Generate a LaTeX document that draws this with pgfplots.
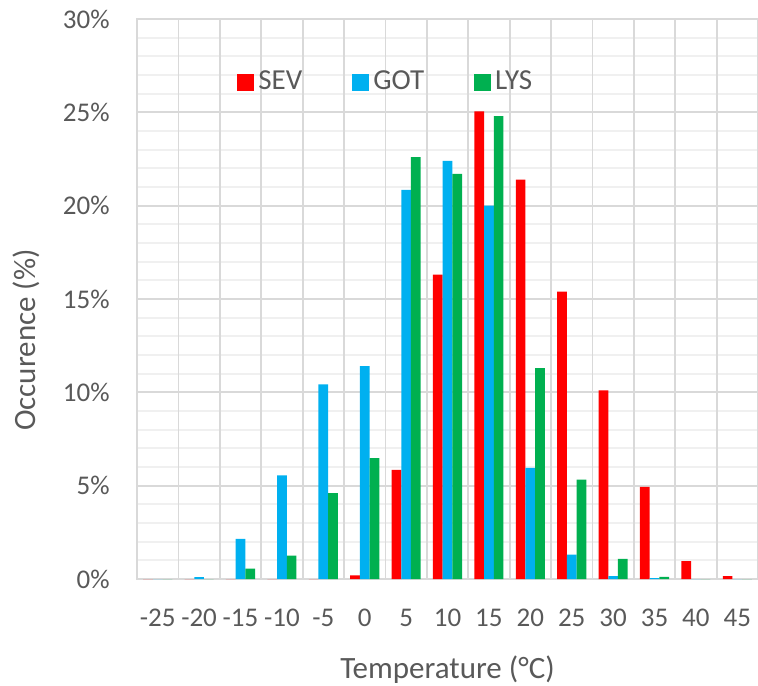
\documentclass[border=0pt]{standalone}
\usepackage{pgfplots}
\pgfplotsset{compat=1.18}
\usepackage{fontspec}
\setmainfont{Carlito}
\definecolor{txtgray}{HTML}{595959}
\definecolor{gridmaj}{HTML}{D9D9D9}
\definecolor{gridmin}{HTML}{F0F0F0}
\definecolor{sev}{HTML}{FF0000}
\definecolor{got}{HTML}{00B0F0}
\definecolor{lys}{HTML}{00B050}
\begin{document}
\begin{tikzpicture}[font=\fontsize{13.5pt}{16pt}\selectfont]
\begin{axis}[
  width=310.5pt, height=280pt, scale only axis,
  ybar=0pt, bar width=4.85pt,
  xmin=-0.5, xmax=14.5, ymin=0, ymax=30,
  xtick={0,...,14},
  xticklabels={-25,-20,-15,-10,-5,0,5,10,15,20,25,30,35,40,45},
  extra x ticks={-0.5,0.5,...,14.5},
  extra x tick labels={},
  extra x tick style={grid=major, major grid style={draw=gridmaj, line width=0.9pt}},
  ytick={0,5,...,30},
  yticklabels={0\%,5\%,10\%,15\%,20\%,25\%,30\%},
  minor y tick num=4,
  ymajorgrids, yminorgrids,
  major grid style={draw=gridmaj, line width=0.9pt},
  minor grid style={draw=gridmin, line width=0.9pt},
  major tick length=0pt, minor tick length=0pt,
  axis line style={draw=gridmaj, line width=0.9pt},
  /pgf/number format/assume math mode=true,
  tick label style={text=txtgray, font=\fontsize{13.5pt}{16pt}\selectfont},
  xticklabel style={anchor=center, inner sep=0pt, yshift=-19.5pt},
  yticklabel style={anchor=east, inner sep=0pt, xshift=-13.5pt},
  xlabel={Temperature (°C)},
  ylabel={Occurence (\%)},
  label style={font=\fontsize{15.5pt}{18pt}\selectfont, text=txtgray},
  xlabel style={at={([yshift=-45.5pt]axis description cs:0.5,0)}, anchor=center},
  ylabel style={at={([xshift=-55.5pt,yshift=-20.5pt]axis description cs:0,0.5)}, anchor=center},
  legend style={at={(0.161,0.8875)}, anchor=west, draw=none, fill=none,
    font=\fontsize{14.5pt}{17pt}\selectfont, text=txtgray, inner sep=0pt,
    /tikz/every even column/.append style={column sep=23pt}},
  legend columns=3,
  legend image code/.code={\fill[#1] (0pt,-4.25pt) rectangle (8.5pt,4.25pt);},
]
\addplot[fill=sev, draw=none] coordinates {(0,0) (1,0) (2,0) (3,0) (4,0) (5,0.2) (6,5.85) (7,16.3) (8,25.05) (9,21.4) (10,15.4) (11,10.1) (12,4.93) (13,0.96) (14,0.15)};
\addplot[fill=got, draw=none] coordinates {(0,0) (1,0.1) (2,2.15) (3,5.55) (4,10.42) (5,11.4) (6,20.85) (7,22.4) (8,20.0) (9,5.95) (10,1.3) (11,0.15) (12,0.05) (13,0) (14,0)};
\addplot[fill=lys, draw=none] coordinates {(0,0) (1,0) (2,0.55) (3,1.25) (4,4.6) (5,6.47) (6,22.6) (7,21.7) (8,24.8) (9,11.3) (10,5.32) (11,1.08) (12,0.12) (13,0) (14,0)};
\legend{SEV,GOT,LYS}
\end{axis}
\pgfresetboundingbox
\path ([xshift=-68.5pt,yshift=-53pt]current axis.south west) rectangle ([yshift=9.5pt]current axis.north east);
\end{tikzpicture}
\end{document}
